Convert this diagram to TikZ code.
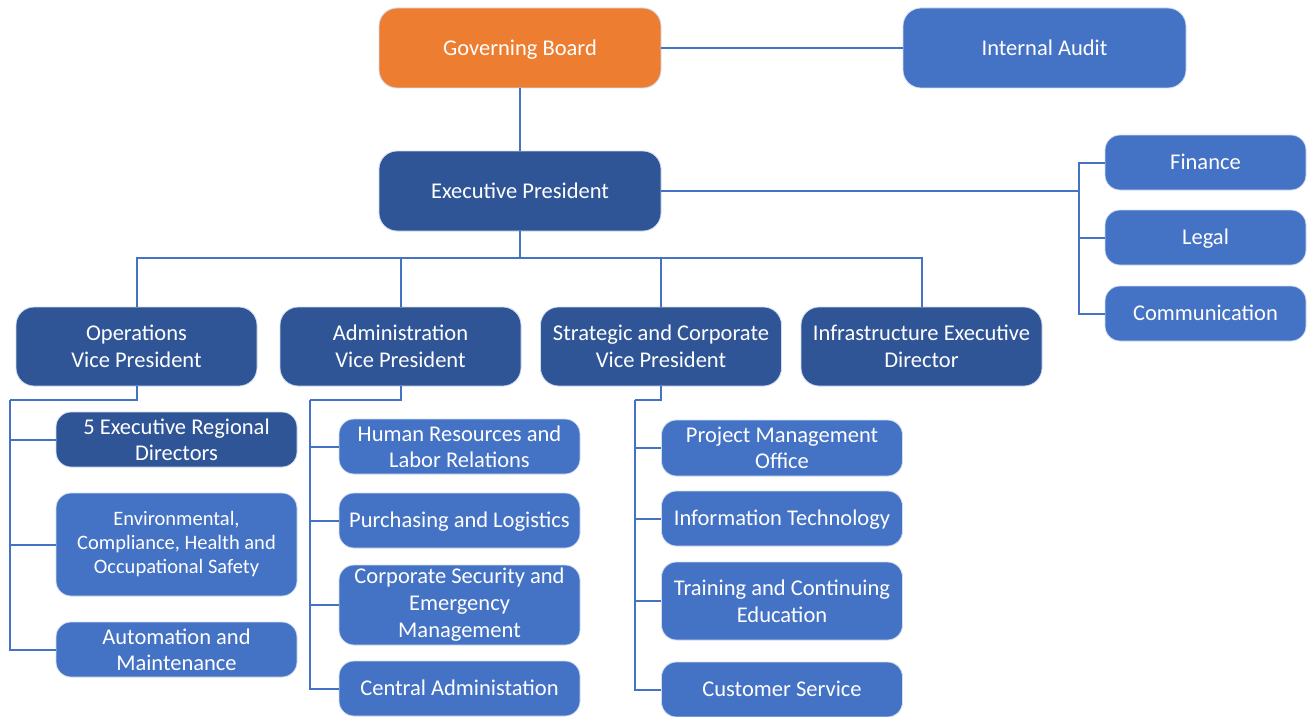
\documentclass[tikz,border=0pt]{standalone}
\usepackage{fontspec}
\setmainfont{Carlito}
\definecolor{orangebox}{HTML}{ED7D31}
\definecolor{darkbox}{HTML}{2F5597}
\definecolor{midbox}{HTML}{4472C4}
\definecolor{linkcol}{HTML}{4472C4}
\begin{document}
\begin{tikzpicture}[x=1pt,y=-1pt,
  box/.style={rectangle, rounded corners=18pt, draw=white!75!midbox, line width=0.8pt,
    text=white, align=center, inner sep=1pt,
    font=\fontsize{22.5}{27}\selectfont},
  oneline/.style={text height=14.5pt, text depth=0pt},
  bigbox/.style={box, oneline, minimum width=282pt, minimum height=80pt},
  vpbox/.style={box, fill=darkbox, minimum width=241pt, minimum height=79pt},
  subbox/.style={box, fill=midbox, minimum width=241pt, rounded corners=15pt},
  sidebox/.style={box, oneline, fill=midbox, minimum width=201pt, minimum height=55pt, rounded corners=15pt},
  link/.style={draw=linkcol, line width=2pt}]
\useasboundingbox (0,0) rectangle (1307,717);

% top level
\node[bigbox, fill=orangebox] (gb) at (520,48) {Governing Board};
\node[bigbox, fill=midbox, minimum width=283pt] (ia) at (1044.5,48) {Internal Audit};
\node[bigbox, fill=darkbox] (ep) at (520,191) {Executive President};

% staff units
\node[sidebox] (fin) at (1205.5,162.5) {Finance};
\node[sidebox] (leg) at (1205.5,237.5) {Legal};
\node[sidebox] (com) at (1205.5,313.5) {Communication};

% vice presidencies
\node[vpbox] (ops) at (136.5,346.5) {Operations\\Vice President};
\node[vpbox] (adm) at (400.5,346.5) {Administration\\Vice President};
\node[vpbox] (str) at (661,346.5) {Strategic and Corporate\\Vice President};
\node[vpbox] (inf) at (921.5,346.5) {Infrastructure Executive\\Director};

% operations units
\node[subbox, fill=darkbox, minimum height=55pt, font=\fontsize{22.5}{26}\selectfont] (erd) at (176.5,439.5) {5 Executive Regional\\Directors};
\node[subbox, minimum height=103pt, font=\fontsize{20.5}{24}\selectfont] (env) at (176.5,544.5) {Environmental,\\Compliance, Health and\\Occupational Safety};
\node[subbox, minimum height=55pt, font=\fontsize{22.5}{26}\selectfont] (aut) at (176.5,649.5) {Automation and\\Maintenance};

% administration units
\node[subbox, minimum height=55pt, font=\fontsize{22.5}{26}\selectfont] (hr) at (459.5,446.5) {Human Resources and\\Labor Relations};
\node[subbox, oneline, minimum height=55pt] (pur) at (459.5,520.5) {Purchasing and Logistics};
\node[subbox, minimum height=80pt] (sec) at (459.5,605) {Corporate Security and\\Emergency\\Management};
\node[subbox, oneline, minimum height=55pt] (cen) at (459.5,688.5) {Central Administation};

% strategic units
\node[subbox, minimum height=56pt, font=\fontsize{22.5}{26}\selectfont] (pmo) at (782,448) {Project Management\\Office};
\node[subbox, oneline, minimum height=55pt] (it) at (782,518.5) {Information Technology};
\node[subbox, minimum height=78pt] (trn) at (782,601) {Training and Continuing\\Education};
\node[subbox, oneline, minimum height=55pt] (cus) at (782,689.5) {Customer Service};

% junction points
\coordinate (hub) at (520,258);
\coordinate (fbus) at (1079,191);
\coordinate (opsbus) at (10,400);
\coordinate (admbus) at (310,400);
\coordinate (strbus) at (635,400);

% connectors
\path[link] (gb) -- (ia);
\path[link] (gb) -- (ep);
\path[link] (ep.east) -- (fbus);
\path[link] (fbus) |- (fin.west);
\path[link] (fbus) |- (leg.west);
\path[link] (fbus) |- (com.west);
\path[link] (ep.south) -- (hub);
\path[link] (hub) -| (ops.north);
\path[link] (hub) -| (adm.north);
\path[link] (hub) -| (str.north);
\path[link] (hub) -| (inf.north);

\path[link] (ops.south) |- (opsbus);
\path[link] (opsbus) |- (erd.west);
\path[link] (opsbus) |- (env.west);
\path[link] (opsbus) |- (aut.west);

\path[link] (adm.south) |- (admbus);
\path[link] (admbus) |- (hr.west);
\path[link] (admbus) |- (pur.west);
\path[link] (admbus) |- (sec.west);
\path[link] (admbus) |- (cen.west);

\path[link] (str.south) |- (strbus);
\path[link] (strbus) |- (pmo.west);
\path[link] (strbus) |- (it.west);
\path[link] (strbus) |- (trn.west);
\path[link] (strbus) |- (cus.west);
\end{tikzpicture}
\end{document}
